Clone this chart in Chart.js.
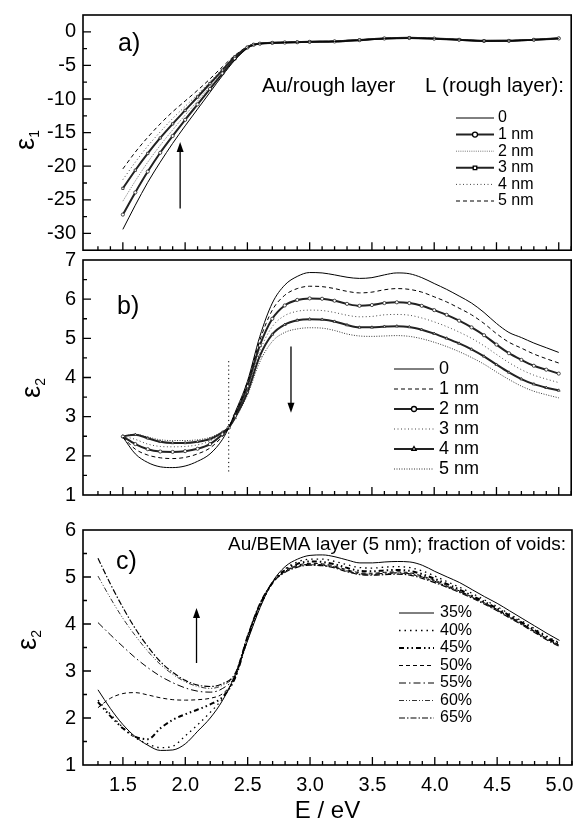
<!DOCTYPE html>
<html>
<head>
<meta charset="utf-8">
<script src="https://cdn.jsdelivr.net/npm/chart.js@4.4.0/dist/chart.umd.min.js"></script>
<style>
  html, body { margin: 0; padding: 0; background: #fff; }
  #wrap { position: relative; width: 576px; height: 823px; overflow: hidden; background: #fff; }
  canvas { position: absolute; left: 0; }
</style>
</head>
<body>
<div id="wrap">
  <canvas id="chartA" width="576" height="255" style="top:0px"></canvas>
  <canvas id="chartB" width="576" height="260" style="top:245px"></canvas>
  <canvas id="chartC" width="576" height="318" style="top:505px"></canvas>
</div>
<script>
// ---- panel a: eps1 for rough layer thickness L ----
const energyA = [1.5, 1.6, 1.7, 1.8, 1.9, 2.0, 2.1, 2.2, 2.3, 2.4, 2.5, 2.55, 2.6, 2.7, 2.8, 2.9, 3.0, 3.2, 3.4, 3.6, 3.8, 4.0, 4.2, 4.4, 4.6, 4.8, 5.0];
const eps1L0 = [-29.4, -25.8, -22.4, -19.4, -16.6, -14.0, -11.5, -9.0, -6.5, -4.2, -2.4, -1.95, -1.78, -1.66, -1.6, -1.55, -1.5, -1.45, -1.25, -1.02, -0.93, -1.03, -1.2, -1.38, -1.36, -1.2, -1.0];
const eps1L1 = [-27.2, -23.9, -20.8, -18.0, -15.5, -13.1, -10.8, -8.5, -6.2, -4.0, -2.35, -1.93, -1.77, -1.65, -1.6, -1.55, -1.5, -1.44, -1.24, -1.0, -0.92, -1.02, -1.19, -1.37, -1.35, -1.19, -0.99];
const eps1L2 = [-25.2, -22.2, -19.4, -16.9, -14.6, -12.4, -10.3, -8.1, -5.9, -3.9, -2.3, -1.91, -1.76, -1.64, -1.59, -1.54, -1.49, -1.43, -1.23, -0.99, -0.91, -1.01, -1.18, -1.36, -1.34, -1.18, -0.98];
const eps1L3 = [-23.3, -20.6, -18.1, -15.8, -13.7, -11.7, -9.7, -7.7, -5.7, -3.7, -2.3, -1.89, -1.75, -1.63, -1.58, -1.53, -1.48, -1.42, -1.22, -0.98, -0.9, -1.0, -1.17, -1.35, -1.33, -1.17, -0.97];
const eps1L4 = [-22.0, -19.4, -17.0, -14.9, -12.9, -11.1, -9.3, -7.4, -5.5, -3.6, -2.25, -1.87, -1.74, -1.62, -1.57, -1.52, -1.47, -1.41, -1.21, -0.97, -0.89, -0.99, -1.16, -1.34, -1.32, -1.16, -0.96];
const eps1L5 = [-20.4, -17.9, -15.7, -13.7, -11.9, -10.3, -8.7, -7.0, -5.2, -3.5, -2.2, -1.86, -1.73, -1.61, -1.56, -1.51, -1.46, -1.4, -1.2, -0.96, -0.88, -0.98, -1.15, -1.33, -1.31, -1.15, -0.95];
const labelsA = ['0', '1 nm', '2 nm', '3 nm', '4 nm', '5 nm'];
const arrowA = { e: 1.96, from: -26.3, to: -16.4 };

// ---- panel b: eps2 for rough layer thickness L ----
const energyB = [1.5, 1.6, 1.7, 1.8, 1.9, 2.0, 2.1, 2.2, 2.3, 2.35, 2.4, 2.5, 2.6, 2.7, 2.8, 2.9, 3.0, 3.1, 3.2, 3.3, 3.4, 3.5, 3.6, 3.7, 3.8, 3.9, 4.0, 4.1, 4.2, 4.3, 4.4, 4.5, 4.6, 4.7, 4.8, 4.9, 5.0];
const eps2L0 = [2.48, 2.05, 1.83, 1.72, 1.70, 1.74, 1.86, 2.05, 2.42, 2.72, 3.1, 3.9, 5.05, 5.9, 6.36, 6.58, 6.68, 6.67, 6.62, 6.56, 6.53, 6.55, 6.62, 6.67, 6.65, 6.55, 6.4, 6.25, 6.08, 5.9, 5.66, 5.38, 5.15, 5.02, 4.88, 4.76, 4.64];
const eps2L1 = [2.48, 2.17, 2.02, 1.95, 1.93, 1.96, 2.05, 2.2, 2.5, 2.72, 3.05, 3.85, 4.95, 5.72, 6.1, 6.27, 6.33, 6.32, 6.27, 6.2, 6.16, 6.18, 6.24, 6.27, 6.25, 6.18, 6.06, 5.93, 5.77, 5.6, 5.38, 5.12, 4.9, 4.75, 4.6, 4.48, 4.37];
const eps2L2 = [2.49, 2.3, 2.17, 2.11, 2.10, 2.12, 2.18, 2.3, 2.55, 2.72, 3.02, 3.78, 4.82, 5.5, 5.84, 5.98, 6.02, 6.01, 5.96, 5.88, 5.83, 5.85, 5.9, 5.92, 5.9, 5.83, 5.72, 5.6, 5.45, 5.28, 5.08, 4.84, 4.62, 4.45, 4.3, 4.2, 4.1];
const eps2L3 = [2.5, 2.42, 2.3, 2.24, 2.23, 2.24, 2.28, 2.38, 2.58, 2.72, 3.0, 3.7, 4.68, 5.3, 5.58, 5.69, 5.72, 5.71, 5.66, 5.59, 5.55, 5.56, 5.6, 5.61, 5.59, 5.52, 5.42, 5.3, 5.16, 5.0, 4.81, 4.59, 4.38, 4.2, 4.06, 3.96, 3.87];
const eps2L4 = [2.5, 2.54, 2.45, 2.36, 2.33, 2.33, 2.36, 2.43, 2.6, 2.72, 2.97, 3.62, 4.55, 5.1, 5.35, 5.46, 5.49, 5.48, 5.43, 5.34, 5.28, 5.28, 5.3, 5.31, 5.29, 5.22, 5.12, 5.0, 4.87, 4.72, 4.54, 4.33, 4.13, 3.96, 3.83, 3.74, 3.67];
const eps2L5 = [2.5, 2.55, 2.48, 2.41, 2.39, 2.39, 2.41, 2.47, 2.62, 2.72, 2.94, 3.55, 4.4, 4.92, 5.15, 5.24, 5.27, 5.26, 5.2, 5.11, 5.06, 5.05, 5.06, 5.07, 5.05, 4.99, 4.9, 4.79, 4.66, 4.51, 4.34, 4.14, 3.95, 3.78, 3.65, 3.56, 3.48];
const labelsB = ['0', '1 nm', '2 nm', '3 nm', '4 nm', '5 nm'];
const guideB = { e: 2.35, from: 1.6, to: 4.45 };
const arrowB = { e: 2.85, from: 4.79, to: 3.1 };

// ---- panel c: eps2 for Au/BEMA layer, fraction of voids ----
const energyC = [1.3, 1.4, 1.5, 1.6, 1.7, 1.8, 1.9, 2.0, 2.1, 2.2, 2.3, 2.4, 2.5, 2.6, 2.7, 2.8, 2.9, 3.0, 3.1, 3.2, 3.3, 3.4, 3.5, 3.6, 3.7, 3.8, 3.9, 4.0, 4.1, 4.2, 4.3, 4.4, 4.5, 4.6, 4.7, 4.8, 4.9, 5.0];
const voids35 = [2.6, 2.2, 1.86, 1.6, 1.42, 1.31, 1.32, 1.45, 1.72, 2.0, 2.38, 2.92, 3.65, 4.35, 4.9, 5.22, 5.38, 5.46, 5.47, 5.43, 5.36, 5.3, 5.3, 5.32, 5.33, 5.32, 5.25, 5.12, 5.0, 4.88, 4.73, 4.58, 4.44, 4.28, 4.12, 3.96, 3.8, 3.65];
const voids40 = [2.38, 2.08, 1.8, 1.58, 1.45, 1.37, 1.4, 1.62, 1.86, 2.12, 2.42, 2.88, 3.68, 4.38, 4.88, 5.17, 5.32, 5.38, 5.38, 5.33, 5.26, 5.2, 5.19, 5.21, 5.22, 5.2, 5.13, 5.02, 4.9, 4.78, 4.65, 4.51, 4.37, 4.21, 4.06, 3.9, 3.74, 3.6];
const voids45 = [2.34, 2.04, 1.78, 1.6, 1.55, 1.78, 1.96, 2.08, 2.18, 2.29, 2.45, 2.86, 3.7, 4.4, 4.88, 5.15, 5.28, 5.33, 5.32, 5.27, 5.19, 5.13, 5.12, 5.14, 5.15, 5.13, 5.06, 4.96, 4.85, 4.73, 4.6, 4.47, 4.33, 4.18, 4.03, 3.87, 3.71, 3.57];
const voids50 = [2.22, 2.42, 2.52, 2.54, 2.49, 2.43, 2.39, 2.38, 2.39, 2.42, 2.52, 2.86, 3.72, 4.42, 4.88, 5.13, 5.25, 5.29, 5.28, 5.23, 5.15, 5.09, 5.08, 5.1, 5.11, 5.09, 5.02, 4.93, 4.82, 4.7, 4.58, 4.45, 4.31, 4.16, 4.01, 3.85, 3.69, 3.55];
const voids55 = [4.03, 3.77, 3.52, 3.28, 3.07, 2.89, 2.75, 2.64, 2.57, 2.55, 2.63, 2.9, 3.74, 4.43, 4.88, 5.12, 5.23, 5.27, 5.26, 5.21, 5.13, 5.07, 5.06, 5.08, 5.09, 5.07, 5.0, 4.91, 4.8, 4.69, 4.57, 4.44, 4.3, 4.15, 4.0, 3.84, 3.68, 3.54];
const voids60 = [5.02, 4.55, 4.12, 3.75, 3.42, 3.14, 2.93, 2.77, 2.67, 2.63, 2.7, 2.93, 3.75, 4.44, 4.88, 5.11, 5.22, 5.26, 5.25, 5.2, 5.12, 5.06, 5.05, 5.07, 5.08, 5.06, 4.99, 4.9, 4.79, 4.68, 4.56, 4.43, 4.29, 4.14, 3.99, 3.83, 3.67, 3.53];
const voids65 = [5.4, 4.85, 4.35, 3.9, 3.52, 3.2, 2.97, 2.8, 2.7, 2.67, 2.73, 2.95, 3.76, 4.45, 4.88, 5.1, 5.21, 5.25, 5.24, 5.19, 5.11, 5.05, 5.04, 5.05, 5.06, 5.04, 4.97, 4.88, 4.78, 4.67, 4.55, 4.42, 4.28, 4.13, 3.98, 3.82, 3.66, 3.52];
const labelsC = ['35%', '40%', '45%', '50%', '55%', '60%', '65%'];
const arrowC = { e: 2.09, from: 3.17, to: 4.34 };

const FONT = "'Liberation Sans', Arial, Helvetica, sans-serif";

function series(label, xs, ys, style) {
    return Object.assign({
        label: label,
        data: xs.map((e, i) => ({ x: e, y: ys[i] })),
        borderColor: '#000',
        borderWidth: 1,
        pointRadius: 0,
        fill: false,
        cubicInterpolationMode: 'monotone'
    }, style);
}

// frame + inward ticks, arrows, texts, line key and y title
const decor = {
    id: 'decor',
    afterDatasetsDraw(chart) {
        const o = chart.options.plugins.decor;
        const { ctx, chartArea: a, scales: { x, y } } = chart;
        ctx.save();
        ctx.strokeStyle = '#000';
        ctx.fillStyle = '#000';
        ctx.lineWidth = 1.6;
        ctx.strokeRect(a.left, a.top, a.right - a.left, a.bottom - a.top);

        ctx.lineWidth = 1.3;
        ctx.beginPath();
        x.ticks.forEach(t => {
            const v = t.value;
            if (Math.abs(v * 10 - Math.round(v * 10)) > 1e-6) return;
            const major = Math.abs(v * 2 - Math.round(v * 2)) < 1e-6;
            const px = x.getPixelForValue(v);
            ctx.moveTo(px, a.bottom);
            ctx.lineTo(px, a.bottom - (major ? 8 : 4));
        });
        y.ticks.forEach(t => {
            const v = t.value;
            const major = Math.abs(v / o.majorY - Math.round(v / o.majorY)) < 1e-6;
            const py = y.getPixelForValue(v);
            if (py < a.top + 1 || py > a.bottom - 1) return;
            ctx.moveTo(a.left, py);
            ctx.lineTo(a.left + (major ? 8 : 4), py);
        });
        ctx.stroke();

        // arrows
        (o.arrows || []).forEach(ar => {
            const px = x.getPixelForValue(ar.e);
            const p1 = y.getPixelForValue(ar.from);
            const p2 = y.getPixelForValue(ar.to);
            const dir = p2 < p1 ? 1 : -1;
            ctx.lineWidth = 1.3;
            ctx.beginPath();
            ctx.moveTo(px, p1);
            ctx.lineTo(px, p2 + dir * 8);
            ctx.stroke();
            ctx.beginPath();
            ctx.moveTo(px, p2);
            ctx.lineTo(px - 3.5, p2 + dir * 10);
            ctx.lineTo(px + 3.5, p2 + dir * 10);
            ctx.closePath();
            ctx.fill();
        });

        // texts
        (o.texts || []).forEach(t => {
            ctx.font = t.size + 'px ' + FONT;
            ctx.textAlign = t.align || 'left';
            ctx.textBaseline = 'middle';
            ctx.fillText(t.text, t.x, t.y - o.top);
        });

        // line key
        const k = o.key;
        if (k) {
            ctx.font = k.size + 'px ' + FONT;
            ctx.textAlign = 'left';
            ctx.textBaseline = 'middle';
            let row = 0;
            chart.data.datasets.forEach(ds => {
                if (ds.noKey) return;
                const ly = k.y0 + row * k.dy - o.top;
                ctx.save();
                ctx.strokeStyle = ds.borderColor;
                ctx.lineWidth = ds.borderWidth;
                ctx.setLineDash(ds.borderDash || []);
                ctx.beginPath();
                ctx.moveTo(k.x1, ly);
                ctx.lineTo(k.x2, ly);
                ctx.stroke();
                ctx.restore();
                if (ds.keyMarker) {
                    ctx.save();
                    ctx.strokeStyle = '#000';
                    ctx.fillStyle = '#fff';
                    Chart.helpers.drawPoint(ctx, { pointStyle: ds.keyMarker, radius: 2.5, borderWidth: 1, rotation: 0 }, (k.x1 + k.x2) / 2, ly);
                    ctx.restore();
                }
                ctx.fillStyle = '#000';
                ctx.fillText(ds.label, k.tx, ly);
                row++;
            });
        }

        // y title: epsilon with subscript, rotated
        const yt = o.yTitle;
        ctx.save();
        ctx.translate(yt.x, yt.y - o.top);
        ctx.rotate(-Math.PI / 2);
        ctx.fillStyle = '#000';
        ctx.textBaseline = 'alphabetic';
        ctx.textAlign = 'left';
        ctx.font = '27px ' + FONT;
        const w = ctx.measureText('\u03b5').width;
        ctx.font = '14px ' + FONT;
        const ws = ctx.measureText(yt.sub).width;
        const start = -(w + ws) / 2;
        ctx.font = '27px ' + FONT;
        ctx.fillText('\u03b5', start, 0);
        ctx.font = '14px ' + FONT;
        ctx.fillText(yt.sub, start + w, 5);
        ctx.restore();

        ctx.restore();
    }
};

function makeChart(id, cfg) {
    const xFit = cfg.xHeight;
    return new Chart(document.getElementById(id), {
        type: 'line',
        data: { datasets: cfg.datasets },
        plugins: [decor],
        options: {
            responsive: false,
            animation: false,
            devicePixelRatio: 1,
            layout: { padding: { top: cfg.padTop, right: 4, left: 0, bottom: 0 } },
            plugins: {
                legend: { display: false },
                tooltip: { enabled: false },
                decor: cfg.decor
            },
            scales: {
                x: {
                    type: 'linear',
                    min: 1.18,
                    max: 5.1,
                    afterFit: s => { s.height = xFit; s.paddingLeft = 0; s.paddingRight = 0; },
                    grid: { display: false, drawTicks: false },
                    border: { display: false },
                    ticks: {
                        display: cfg.xLabels,
                        stepSize: 0.1,
                        autoSkip: false,
                        maxRotation: 0,
                        padding: 8,
                        color: '#000',
                        font: { family: FONT, size: 20 },
                        callback: v => Math.abs(v * 2 - Math.round(v * 2)) < 1e-6 ? v.toFixed(1) : ''
                    },
                    title: {
                        display: cfg.xLabels,
                        text: 'E / eV',
                        color: '#000',
                        font: { family: FONT, size: 24, lineHeight: 1.0 },
                        padding: { top: 0, bottom: 0 }
                    }
                },
                y: {
                    min: cfg.yMin,
                    max: cfg.yMax,
                    afterFit: s => { s.width = 83; s.paddingTop = 0; s.paddingBottom = 0; },
                    grid: { display: false, drawTicks: false },
                    border: { display: false },
                    ticks: {
                        stepSize: cfg.yStep,
                        autoSkip: false,
                        padding: 7,
                        color: '#000',
                        font: { family: FONT, size: 20 },
                        callback: v => Math.abs(v / cfg.decor.majorY - Math.round(v / cfg.decor.majorY)) < 1e-6 ? String(v) : ''
                    }
                }
            }
        }
    });
}

const marked = { borderWidth: 2, borderColor: '#222', pointRadius: 1.6, pointBorderWidth: 0.8, pointBackgroundColor: '#fff', pointBorderColor: '#222' };

makeChart('chartA', {
    padTop: 15, xHeight: 4, xLabels: false, yMin: -32.5, yMax: 2.5, yStep: 2.5,
    datasets: [
        series(labelsA[0], energyA, eps1L0, {}),
        series(labelsA[1], energyA, eps1L1, Object.assign({ pointStyle: 'circle', keyMarker: 'circle' }, marked)),
        series(labelsA[2], energyA, eps1L2, { borderColor: '#777', borderDash: [1, 1.2] }),
        series(labelsA[3], energyA, eps1L3, Object.assign({ pointStyle: 'rect', keyMarker: 'rect' }, marked)),
        series(labelsA[4], energyA, eps1L4, { borderColor: '#444', borderDash: [1, 2.5] }),
        series(labelsA[5], energyA, eps1L5, { borderDash: [4, 3] })
    ],
    decor: {
        top: 0, majorY: 5,
        arrows: [arrowA],
        texts: [
            { text: 'a)', x: 118, y: 44, size: 25 },
            { text: 'Au/rough layer', x: 262, y: 86, size: 20.5 },
            { text: 'L (rough layer):', x: 564, y: 86, size: 20.5, align: 'right' }
        ],
        key: { x1: 456, x2: 494, tx: 498, y0: 118, dy: 16.6, size: 16 },
        yTitle: { x: 34, y: 140, sub: '1' }
    }
});

makeChart('chartB', {
    padTop: 15, xHeight: 10, xLabels: false, yMin: 1, yMax: 7, yStep: 0.5,
    datasets: [
        series(labelsB[0], energyB, eps2L0, {}),
        series(labelsB[1], energyB, eps2L1, { borderDash: [4, 3] }),
        series(labelsB[2], energyB, eps2L2, Object.assign({ pointStyle: 'circle', keyMarker: 'circle' }, marked)),
        series(labelsB[3], energyB, eps2L3, { borderColor: '#444', borderDash: [1, 2.5] }),
        series(labelsB[4], energyB, eps2L4, Object.assign({ pointStyle: 'triangle', keyMarker: 'triangle' }, marked)),
        series(labelsB[5], energyB, eps2L5, { borderColor: '#333', borderDash: [1, 1.5] }),
        series('', [guideB.e, guideB.e], [guideB.from, guideB.to], { noKey: true, borderDash: [1.2, 3], cubicInterpolationMode: 'default', tension: 0 })
    ],
    decor: {
        top: 245, majorY: 1,
        arrows: [arrowB],
        texts: [
            { text: 'b)', x: 117, y: 307, size: 25 }
        ],
        key: { x1: 394, x2: 434, tx: 439, y0: 369, dy: 20, size: 18 },
        yTitle: { x: 40, y: 388, sub: '2' }
    }
});

makeChart('chartC', {
    padTop: 25, xHeight: 58, xLabels: true, yMin: 1, yMax: 6, yStep: 0.5,
    datasets: [
        series(labelsC[0], energyC, voids35, {}),
        series(labelsC[1], energyC, voids40, { borderDash: [1.5, 4], borderWidth: 1.3 }),
        series(labelsC[2], energyC, voids45, { borderDash: [5, 3, 1.5, 3, 1.5, 3], borderWidth: 2 }),
        series(labelsC[3], energyC, voids50, { borderDash: [4, 3] }),
        series(labelsC[4], energyC, voids55, { borderDash: [7, 3, 1.5, 3] }),
        series(labelsC[5], energyC, voids60, { borderDash: [5, 2, 1, 2, 1, 2], borderColor: '#333' }),
        series(labelsC[6], energyC, voids65, { borderDash: [6, 2, 1.5, 2], borderWidth: 1.2 })
    ],
    decor: {
        top: 505, majorY: 1,
        arrows: [arrowC],
        texts: [
            { text: 'c)', x: 116, y: 562, size: 25 },
            { text: 'Au/BEMA layer (5 nm); fraction of voids:', x: 566, y: 545, size: 19, align: 'right' }
        ],
        key: { x1: 399, x2: 434, tx: 440, y0: 613, dy: 17.5, size: 16 },
        yTitle: { x: 36, y: 640, sub: '2' }
    }
});
</script>
</body>
</html>
